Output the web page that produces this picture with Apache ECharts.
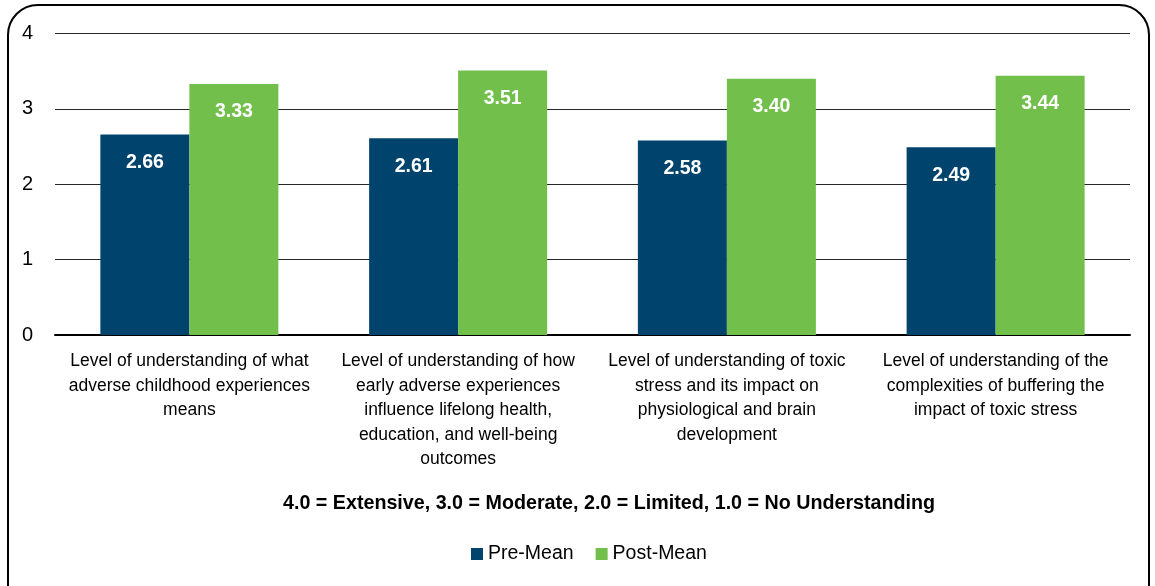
<!DOCTYPE html>
<html>
<head>
<meta charset="utf-8">
<script src="https://cdn.jsdelivr.net/npm/echarts@6/dist/echarts.min.js"></script>
<style>
  html, body { margin: 0; padding: 0; background: #fff; }
  #chart { width: 1155px; height: 586px; }
</style>
</head>
<body>
<div id="chart"></div>
<script>
// Survey items (x-axis categories), wrapped as shown under each bar pair
const categories = [
  "Level of understanding of what\nadverse childhood experiences\nmeans",
  "Level of understanding of how\nearly adverse experiences\ninfluence lifelong health,\neducation, and well-being\noutcomes",
  "Level of understanding of toxic\nstress and its impact on\nphysiological and brain\ndevelopment",
  "Level of understanding of the\ncomplexities of buffering the\nimpact of toxic stress"
];
const preMean = [2.66, 2.61, 2.58, 2.49];
const postMean = [3.33, 3.51, 3.40, 3.44];
const yTicks = [0, 1, 2, 3, 4];
const scaleNote = "4.0 = Extensive, 3.0 = Moderate, 2.0 = Limited, 1.0 = No Understanding";

const FONT = "'Liberation Sans Narrow', 'Arial Narrow', 'Liberation Sans', Arial, sans-serif";
const PRE_COLOR = "#00446d";
const POST_COLOR = "#72bf4c";

const chart = echarts.init(document.getElementById("chart"), null, { renderer: "canvas" });

const valueLabel = {
  show: true,
  position: "insideTop",
  distance: 18,
  color: "#ffffff",
  fontFamily: FONT,
  fontWeight: "bold",
  fontSize: 19.5,
  formatter: p => p.value.toFixed(2)
};

chart.setOption({
  animation: false,
  backgroundColor: "#ffffff",
  textStyle: { fontFamily: FONT },
  graphic: [
    {
      type: "rect",
      shape: { x: 8, y: 5, width: 1141, height: 640, r: 30 },
      style: { fill: "none", stroke: "#000000", lineWidth: 2 },
      z: -1
    },
    {
      type: "text",
      left: 283,
      top: 494,
      style: {
        text: scaleNote,
        fontFamily: FONT,
        fontWeight: "bold",
        fontSize: 19.7,
        fill: "#000000"
      }
    }
  ],
  grid: { left: 55, right: 25, top: 33.5, bottom: 251, containLabel: false },
  legend: {
    bottom: 17,
    left: 466,
    itemWidth: 12,
    itemHeight: 12,
    itemGap: 22,
    icon: "rect",
    textStyle: { fontFamily: FONT, fontSize: 19.5, color: "#000000" },
    data: ["Pre-Mean", "Post-Mean"]
  },
  xAxis: {
    type: "category",
    data: categories,
    axisLine: { show: true, lineStyle: { color: "#000000", width: 2 } },
    axisTick: { show: false },
    axisLabel: {
      interval: 0,
      margin: 14,
      color: "#000000",
      fontFamily: FONT,
      fontSize: 17.5,
      lineHeight: 24.5
    }
  },
  yAxis: {
    type: "value",
    min: yTicks[0],
    max: yTicks[yTicks.length - 1],
    interval: 1,
    axisLine: { show: false },
    axisTick: { show: false },
    splitLine: { show: true, lineStyle: { color: "#262626", width: 1.2 } },
    axisLabel: {
      margin: 22,
      color: "#000000",
      fontFamily: FONT,
      fontSize: 20
    }
  },
  series: [
    {
      name: "Pre-Mean",
      type: "bar",
      data: preMean,
      barWidth: 89,
      barGap: "0%",
      itemStyle: { color: PRE_COLOR },
      label: valueLabel
    },
    {
      name: "Post-Mean",
      type: "bar",
      data: postMean,
      barWidth: 89,
      barGap: "0%",
      itemStyle: { color: POST_COLOR },
      label: valueLabel
    }
  ]
});
</script>
</body>
</html>
